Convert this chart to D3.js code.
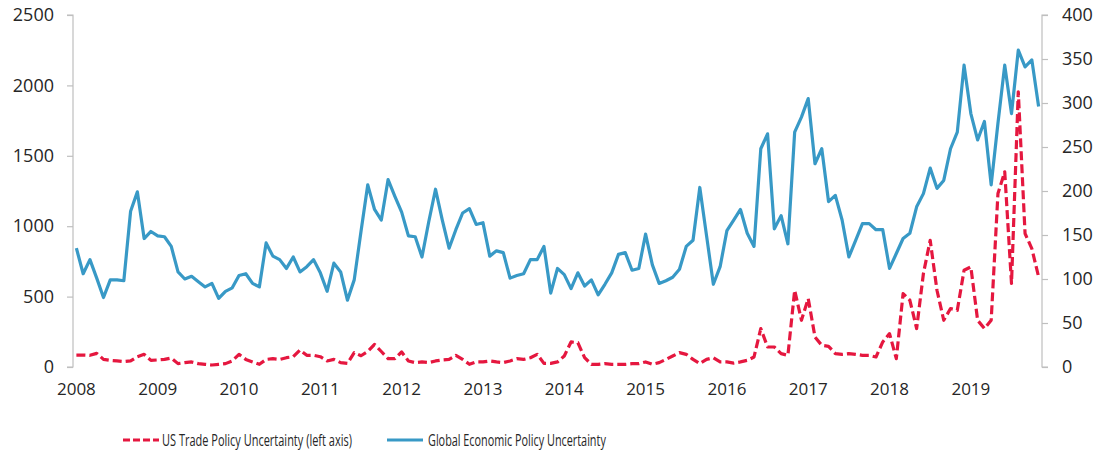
<!DOCTYPE html>
<html><head><meta charset="utf-8">
<script src="https://cdn.jsdelivr.net/npm/d3@7"></script>
<style>
html,body{margin:0;padding:0;background:#fff;}
svg text{font-family:"Open Sans",sans-serif;fill:#262626;}
</style></head>
<body><svg id="c" width="1099" height="457"></svg>
<script>
const years = ["2008","2009","2010","2011","2012","2013","2014","2015","2016","2017","2018","2019"];
const leftTicks = [0,500,1000,1500,2000,2500];
const rightTicks = [0,50,100,150,200,250,300,350,400];
const seriesNames = ["US Trade Policy Uncertainty (left axis)","Global Economic Policy Uncertainty"];
// US Trade Policy Uncertainty (left axis), monthly Jan 2008 - Nov 2019
const usTpu = [
 85,85,83,97,54,47,43,38,43,73,90,47,
 50,54,64,24,31,36,24,19,14,19,24,43,
 90,54,36,19,54,59,54,66,73,121,83,83,
 73,43,54,31,26,102,80,110,160,110,59,59,
 107,43,31,36,31,43,50,54,83,54,19,36,
 36,43,36,31,43,59,54,66,90,26,26,36,
 78,178,173,66,19,19,24,19,19,19,24,24,
 36,19,31,54,78,102,90,54,24,54,66,36,
 36,28,36,47,71,273,142,142,95,83,545,332,
 486,213,154,147,95,90,95,90,83,83,71,178,
 237,59,521,474,273,664,900,545,332,415,403,687,
 711,332,273,332,1232,1386,593,1955,948,841,640];
// Global Economic Policy Uncertainty (right axis)
const gepu = [
 135,106,122,101,79,99,99,98,177,199,146,154,
 149,148,137,108,100,103,97,91,95,78,86,90,
 104,106,95,91,141,126,122,112,125,108,114,122,
 107,86,118,108,76,99,154,207,179,167,213,194,
 176,149,148,125,165,202,167,135,156,175,180,162,
 164,126,132,130,101,104,106,122,122,137,84,112,
 105,89,107,92,99,82,94,107,128,130,110,112,
 151,116,95,98,102,111,137,144,204,149,94,114,
 155,167,179,152,137,248,265,157,172,140,267,284,
 305,231,248,188,195,167,125,144,163,163,156,156,
 112,129,146,152,182,197,226,203,212,248,267,343,
 288,258,279,207,277,343,288,360,341,349,296];

const months = [];
years.forEach(y => { for (let m = 1; m <= 12; m++) months.push(y + "-" + String(m).padStart(2,"0")); });
const cats = months.slice(0, gepu.length);

const RED = "#E5173F", BLUE = "#3899C6";
const svg = d3.select("#c");
const x0 = 73, x1 = 1042, yTop = 15, yBot = 367;
const x = d3.scaleBand().domain(cats).range([x0, x1]);
const yL = d3.scaleLinear().domain([0,2500]).range([yBot, yTop]);
const yR = d3.scaleLinear().domain([0,400]).range([yBot, yTop]);
const cx = c => x(c) + x.bandwidth()/2;

// axes
const axL = d3.axisLeft(yL).tickValues(leftTicks).tickSize(6).tickPadding(13).tickFormat(d3.format("d"));
const gL = svg.append("g").attr("transform", `translate(${x0},0)`).call(axL);
const axR = d3.axisRight(yR).tickValues(rightTicks).tickSize(6).tickPadding(14).tickFormat(d3.format("d"));
const gR = svg.append("g").attr("transform", `translate(${x1},0)`).call(axR);
[gL, gR].forEach(g => {
  g.select(".domain").attr("stroke", "#bfbfbf").attr("stroke-width", 1.2);
  g.selectAll(".tick line").attr("stroke", "#bfbfbf").attr("stroke-width", 1.2);
  g.selectAll(".tick text").style("font-size", "18px").attr("fill", "#262626");
});
gL.select(".domain").attr("d", `M-6,${yTop}H0V${yBot}H-6`);
gR.select(".domain").attr("d", `M6,${yTop}H0V${yBot}H6`);

// x labels at each January
const xb = d3.axisBottom(x).tickValues(years.map(y => y + "-01")).tickFormat(d => d.slice(0,4)).tickSize(0).tickPadding(16);
const gB = svg.append("g").attr("transform", `translate(0,${yBot})`).call(xb);
gB.select(".domain").remove();
gB.selectAll(".tick text").style("font-size", "17px").attr("fill", "#262626");

// lines
const lineR = d3.line().x((d,i) => cx(cats[i])).y(d => yL(d));
const lineB = d3.line().x((d,i) => cx(cats[i])).y(d => yR(d));
svg.append("path").datum(gepu).attr("d", lineB).attr("fill","none")
  .attr("stroke", BLUE).attr("stroke-width", 3.2).attr("stroke-linejoin","round");
svg.append("path").datum(usTpu).attr("d", lineR).attr("fill","none")
  .attr("stroke", RED).attr("stroke-width", 3.2).attr("stroke-dasharray","9,4").attr("stroke-linejoin","round");

// legend (text condensed horizontally to match the reference's narrow face)
const lg = svg.append("g");
const legendItems = [
  {name: seriesNames[0], color: RED, dash: "7,3", lx: 123, tx: 162, w: 190},
  {name: seriesNames[1], color: BLUE, dash: null, lx: 387, tx: 428, w: 178}
];
legendItems.forEach(it => {
  lg.append("line").attr("x1", it.lx).attr("x2", it.lx + 36).attr("y1", 440).attr("y2", 440)
    .attr("stroke", it.color).attr("stroke-width", 3.2).attr("stroke-dasharray", it.dash);
  const t = lg.append("text").attr("x", 0).attr("y", 0).attr("dy", "0.35em")
    .style("font-size", "16px").text(it.name);
  const natural = t.node().getComputedTextLength();
  t.attr("transform", `translate(${it.tx},440) scale(${it.w / natural},1)`);
});
</script></body></html>
